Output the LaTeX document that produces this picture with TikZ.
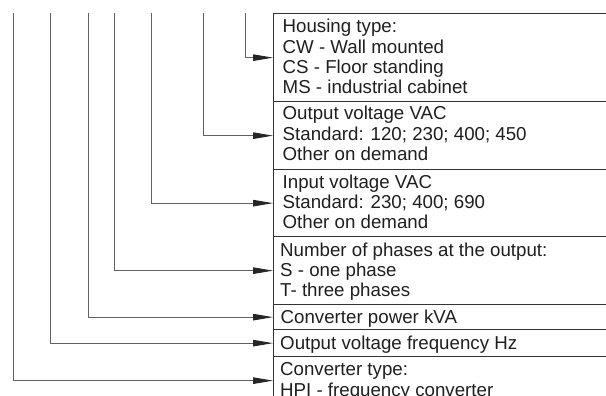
\documentclass[tikz,border=0pt]{standalone}
\usepackage{fontspec}
\setmainfont{Liberation Sans}
\usetikzlibrary{arrows.meta,calc}
\begin{document}
\begin{tikzpicture}[x=1pt,y=-1pt,
  boxst/.style={draw=black!80,line width=1.3pt,rectangle,inner sep=0pt,anchor=north west,minimum width=340pt},
  lead/.style={draw=black!62,line width=1pt,-{Triangle[length=20pt,width=6.5pt,color=black!85]}},
  txt/.style={anchor=base west,inner sep=0pt,text=black!88}]
\useasboundingbox (0,0) rectangle (606,396);
\clip (0,0) rectangle (606,396);
\newcommand\boxtext[1]{\parbox[t]{320pt}{\fontsize{18.7pt}{20.3pt}\selectfont #1}}
% boxes
\node[boxst,minimum height=88pt] (housing) at (273,13) {};
\node[boxst,minimum height=68pt] (outv) at (273,101) {};
\node[boxst,minimum height=67pt] (inv) at (273,169) {};
\node[boxst,minimum height=68pt] (phases) at (273,236) {};
\node[boxst,minimum height=25pt] (power) at (273,304) {};
\node[boxst,minimum height=27pt] (freq) at (273,329) {};
\node[boxst,minimum height=48pt] (type) at (273,356) {};
% texts
\node[txt] (housingT) at ($(housing.north west)+(9.5,20)$) {\boxtext{Housing type:\\CW - Wall mounted\\CS - Floor standing\\MS - industrial cabinet}};
\node[txt] (outvT) at ($(outv.north west)+(9.5,19)$) {\boxtext{Output voltage VAC\\Standard: 120; 230; 400; 450\\Other on demand}};
\node[txt] (invT) at ($(inv.north west)+(9.5,19.3)$) {\boxtext{Input voltage VAC\\Standard: 230; 400; 690\\Other on demand}};
\node[txt] (phasesT) at ($(phases.north west)+(7,20)$) {\boxtext{Number of phases at the output:\\S - one phase\\T- three phases}};
\node[txt] (powerT) at ($(power.north west)+(7.5,19)$) {\boxtext{Converter power kVA}};
\node[txt] (freqT) at ($(freq.north west)+(7,20)$) {\boxtext{Output voltage frequency Hz}};
\node[txt] (typeT) at ($(type.north west)+(7,19.7)$) {\boxtext{Converter type:\\HPI - frequency converter}};
% lead line tops
\coordinate (l1) at (245.5,13);
\coordinate (l2) at (203.5,13);
\coordinate (l3) at (151,13);
\coordinate (l4) at (114.5,13);
\coordinate (l5) at (88,13);
\coordinate (l6) at (50.5,13);
\coordinate (l7) at (13.5,13);
\draw[lead] (l1) |- (housing.west);
\draw[lead] (l2) |- (outv.west);
\draw[lead] (l3) |- (inv.west);
\draw[lead] (l4) |- (phases.west);
\draw[lead] (l5) |- (power.west);
\draw[lead] (l6) |- (freq.west);
\draw[lead] (l7) |- (type.west);
\end{tikzpicture}
\end{document}
